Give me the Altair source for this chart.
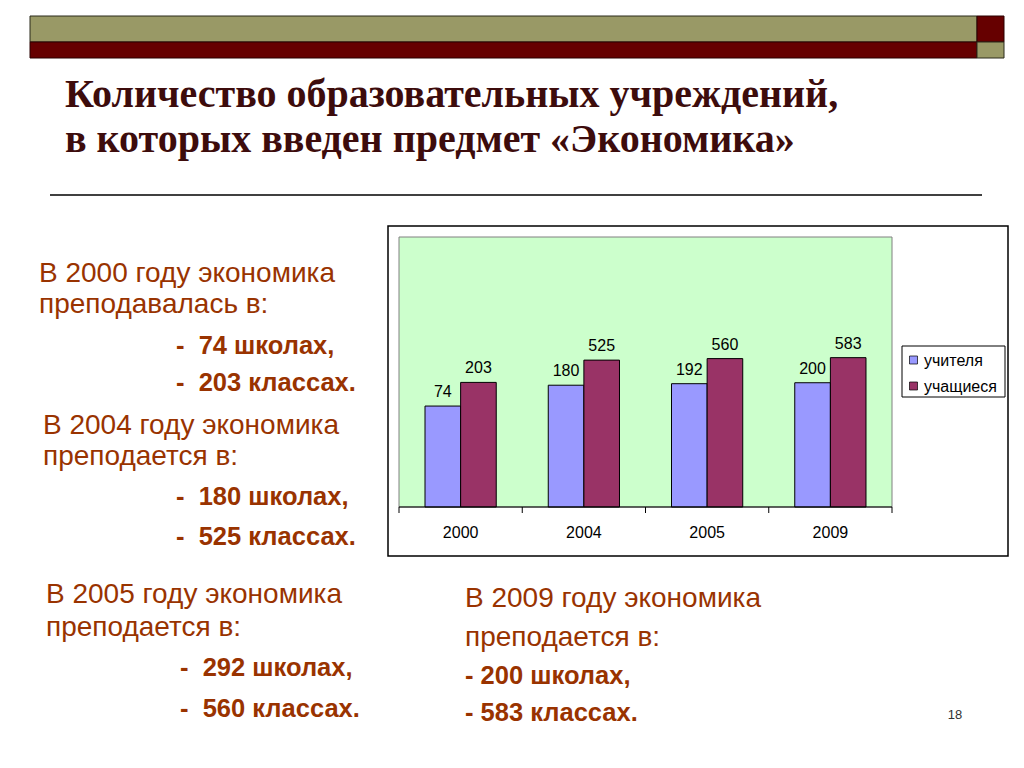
import altair as alt
import pandas as pd

# ---------------- data ----------------
years = ["2000", "2004", "2005", "2009"]
teachers = [74, 180, 192, 200]
students = [203, 525, 560, 583]
series = ["учителя", "учащиеся"]
series_colors = ["#9999FF", "#993366"]

title_lines = ["Количество образовательных учреждений,",
               "в которых введен предмет «Экономика»"]

block_heads = [
    ["В 2000 году экономика", "преподавалась в:"],
    ["В 2004 году экономика", "преподается в:"],
    ["В 2005 году экономика", "преподается в:"],
    ["В 2009 году экономика", "преподается в:"],
]
block_items = [
    ["-\u00a0\u00a074 школах,", "-\u00a0\u00a0203 классах."],
    ["-\u00a0\u00a0180 школах,", "-\u00a0\u00a0525 классах."],
    ["-\u00a0\u00a0292 школах,", "-\u00a0\u00a0560 классах."],
    ["- 200 школах,", "- 583 классах."],
]
page_number = "18"

# ---------------- layout (pixels, svg coords) ----------------
head_x = [31, 35, 38, 457]
head_y = [[274, 305], [426, 457], [595, 628], [599, 638]]
item_x = [168, 168, 172, 457]
item_y = [[346, 383], [497, 537], [668, 709], [676, 713]]

SANS = "Liberation Sans"
SERIF = "Liberation Serif"
BROWN = "#993300"

df = pd.DataFrame({
    "year": years * 2,
    "series": [series[0]] * len(years) + [series[1]] * len(years),
    "value": teachers + students,
})
ydf = pd.DataFrame({"year": years})
one = alt.Data(values=[{"k": 0}])


def rect(x, x2, y, y2, fill, stroke=None, sw=1.0):
    kw = dict(fill=fill)
    if stroke:
        kw.update(stroke=stroke, strokeWidth=sw)
    return alt.Chart(one).mark_rect(**kw).encode(
        x=alt.value(x), x2=alt.value(x2), y=alt.value(y), y2=alt.value(y2))


def txt(s, x, y, size, color, font=SANS, bold=False, align="left", baseline="alphabetic"):
    return alt.Chart(one).mark_text(
        text=s, align=align, baseline=baseline, fontSize=size, font=font,
        fontWeight="bold" if bold else "normal", color=color
    ).encode(x=alt.value(x), y=alt.value(y))


layers = []

# header bars
layers += [
    rect(22, 969, 8, 34, "#999966", "#2b2b1a", 1),
    rect(22, 969, 34, 50, "#660000", "#2b0000", 1),
    rect(969, 996, 8, 34, "#660000", "#2b0000", 1),
    rect(969, 996, 34, 50, "#999966", "#2b2b1a", 1),
]

# title
layers += [
    txt(title_lines[0], 57, 99, 40, "#3D0C0C", font=SERIF, bold=True),
    txt(title_lines[1], 57, 144, 40, "#3D0C0C", font=SERIF, bold=True),
    alt.Chart(one).mark_rule(color="black", strokeWidth=1.5).encode(
        x=alt.value(42), x2=alt.value(974), y=alt.value(187)),
]

# chart frame and plot background
layers += [
    rect(380, 1000, 218, 548, "white", "black", 1.5),
    rect(391, 884, 229, 499, "#CCFFCC", "#808080", 1),
]

xscale = alt.Scale(domain=years, range=[391, 884], paddingInner=0, paddingOuter=0)
yscale = alt.Scale(type="log", domain=[1, 100000], range=[499, 229])
cscale = alt.Scale(domain=series, range=series_colors)
xoff = alt.XOffset("series:N", sort=series,
                   scale=alt.Scale(domain=series, paddingInner=0, paddingOuter=0.73))

bars = alt.Chart(df).mark_bar(stroke="black", strokeWidth=1).encode(
    x=alt.X("year:N", scale=xscale, axis=None),
    xOffset=xoff,
    y=alt.Y("value:Q", scale=yscale, axis=None),
    y2=alt.datum(1),
    color=alt.Color("series:N", scale=cscale, legend=None),
)
vlabels = alt.Chart(df).mark_text(
    baseline="alphabetic", dy=-9, fontSize=16, font=SANS, color="black"
).encode(
    x=alt.X("year:N", scale=xscale, axis=None),
    xOffset=xoff,
    y=alt.Y("value:Q", scale=yscale, axis=None),
    text="value:Q",
)
axis_line = alt.Chart(one).mark_rule(color="black", strokeWidth=1).encode(
    x=alt.value(391), x2=alt.value(884), y=alt.value(499))
ticks = alt.Chart(ydf).mark_rule(color="black", strokeWidth=1).encode(
    x=alt.X("year:N", scale=xscale, axis=None, bandPosition=0),
    y=alt.value(499), y2=alt.value(505))
tick_end = alt.Chart(ydf).transform_filter(
    alt.datum.year == years[-1]
).mark_rule(color="black", strokeWidth=1).encode(
    x=alt.X("year:N", scale=xscale, axis=None, bandPosition=1),
    y=alt.value(499), y2=alt.value(505))
cat_labels = alt.Chart(ydf).mark_text(
    baseline="alphabetic", fontSize=16, font=SANS, color="black"
).encode(
    x=alt.X("year:N", scale=xscale, axis=None),
    y=alt.value(530),
    text="year:N",
)
layers += [bars, vlabels, axis_line, ticks, tick_end, cat_labels]

# legend
layers.append(rect(894, 997, 338, 389, "white", "black", 1))
leg_y = [352, 378]
for s, ly in zip(series, leg_y):
    layers.append(
        alt.Chart(one).mark_square(size=64, filled=True, opacity=1,
                                   stroke="black", strokeWidth=0.7).encode(
            x=alt.value(905.5), y=alt.value(ly),
            color=alt.ColorDatum(s))
    )
    layers.append(txt(s, 916, ly + 1, 16, "black", baseline="middle"))

# slide texts
for i in range(4):
    for j in range(2):
        layers.append(txt(block_heads[i][j], head_x[i], head_y[i][j], 28, BROWN))
        layers.append(txt(block_items[i][j], item_x[i], item_y[i][j], 25.5, BROWN, bold=True))

layers.append(txt(page_number, 947, 711, 13, "#333333", align="center"))

chart = alt.layer(*layers).properties(
    width=1008, height=752, padding=0,
    autosize=alt.AutoSizeParams(type="none"),
    background="white",
).configure_view(stroke=None).configure_legend(disable=True)

chart.save("out.html", embed_options={"renderer": "svg", "actions": False})
